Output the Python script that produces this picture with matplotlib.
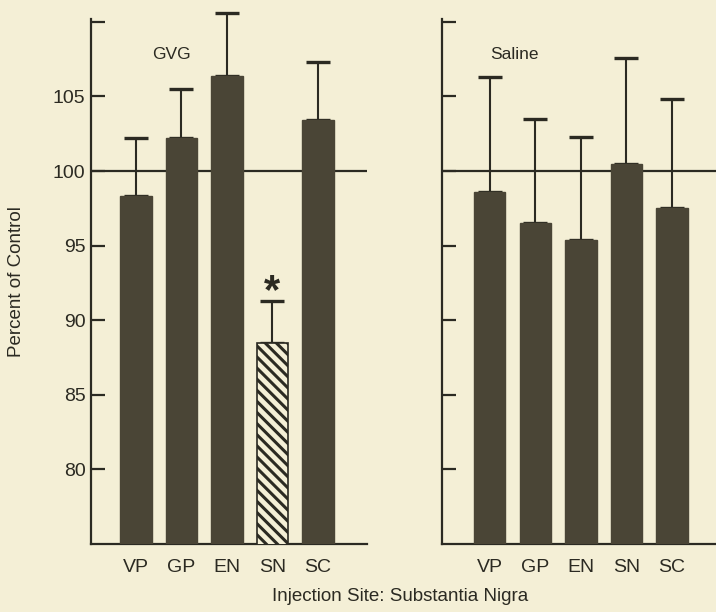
import matplotlib
matplotlib.use('Agg')
import matplotlib.pyplot as plt

# --- data ---
sites = ['VP', 'GP', 'EN', 'SN', 'SC']
gvg_mean = [98.3, 102.2, 106.4, 88.5, 103.4]
gvg_err = [3.9, 3.3, 4.2, 2.8, 3.9]
saline_mean = [98.6, 96.5, 95.4, 100.5, 97.5]
saline_err = [7.7, 7.0, 6.9, 7.1, 7.3]
yticks = [80, 85, 90, 95, 100, 105, 110]
ytick_labels = ['80', '85', '90', '95', '100', '105', '']

bg = '#f4efd6'
bar_col = '#4a4536'
ink = '#2b2a22'

plt.rcParams['font.family'] = ['Liberation Sans', 'DejaVu Sans']
plt.rcParams['hatch.linewidth'] = 2.2
plt.rcParams['hatch.color'] = ink

fig = plt.figure(figsize=(7.16, 6.12), dpi=100, facecolor=bg)
ax1 = fig.add_axes([0.1271, 0.1111, 0.3855, 0.858])
ax2 = fig.add_axes([0.6173, 0.1111, 0.3827, 0.858])

x = list(range(len(sites)))


def panel(ax, means, errs, title, title_x, xlim, hatch_idx=None):
    ax.set_facecolor(bg)
    ax.axhline(100, color=ink, lw=1.6, zorder=1)
    ax.errorbar(x, means, yerr=[[0] * len(errs), errs], fmt='none',
                ecolor=ink, elinewidth=1.5, capsize=8.5, capthick=2.4,
                zorder=2, clip_on=False)
    bars = ax.bar(x, means, width=0.69, color=bar_col, edgecolor=bar_col,
                  zorder=3)
    if hatch_idx is not None:
        b = bars[hatch_idx]
        b.set_facecolor(bg)
        b.set_edgecolor(ink)
        b.set_hatch('\\\\\\')
        b.set_linewidth(1.2)
    ax.set_ylim(75, 110.2)
    ax.set_xlim(*xlim)
    for s in ['top', 'right']:
        ax.spines[s].set_visible(False)
    for s in ['left', 'bottom']:
        ax.spines[s].set_linewidth(1.6)
        ax.spines[s].set_color(ink)
    ax.set_yticks(yticks)
    ax.tick_params(axis='y', direction='in', length=10, width=1.6,
                   color=ink, labelsize=14, labelcolor=ink, pad=4)
    ax.set_xticks(x)
    ax.set_xticklabels(sites)
    ax.tick_params(axis='x', length=0, labelsize=14, labelcolor=ink, pad=11)
    ax.text(title_x, 107.8, title, fontsize=12.5, color=ink,
            ha='center', va='center')


panel(ax1, gvg_mean, gvg_err, 'GVG', 0.77, (-0.99, 5.08), hatch_idx=3)
ax1.set_yticklabels(ytick_labels)
ax1.set_ylabel('Percent of Control', fontsize=13.5, color=ink, labelpad=20)
ax1.text(3, 91.9, '*', fontsize=30, ha='center', va='center', color=ink,
         fontweight='bold')

panel(ax2, saline_mean, saline_err, 'Saline', 0.55, (-1.05, 4.97))
ax2.set_yticklabels([])

fig.text(0.559, 0.012, 'Injection Site: Substantia Nigra', fontsize=13.5,
         color=ink, ha='center', va='bottom')

fig.savefig('out.png', dpi=100, facecolor=bg)
